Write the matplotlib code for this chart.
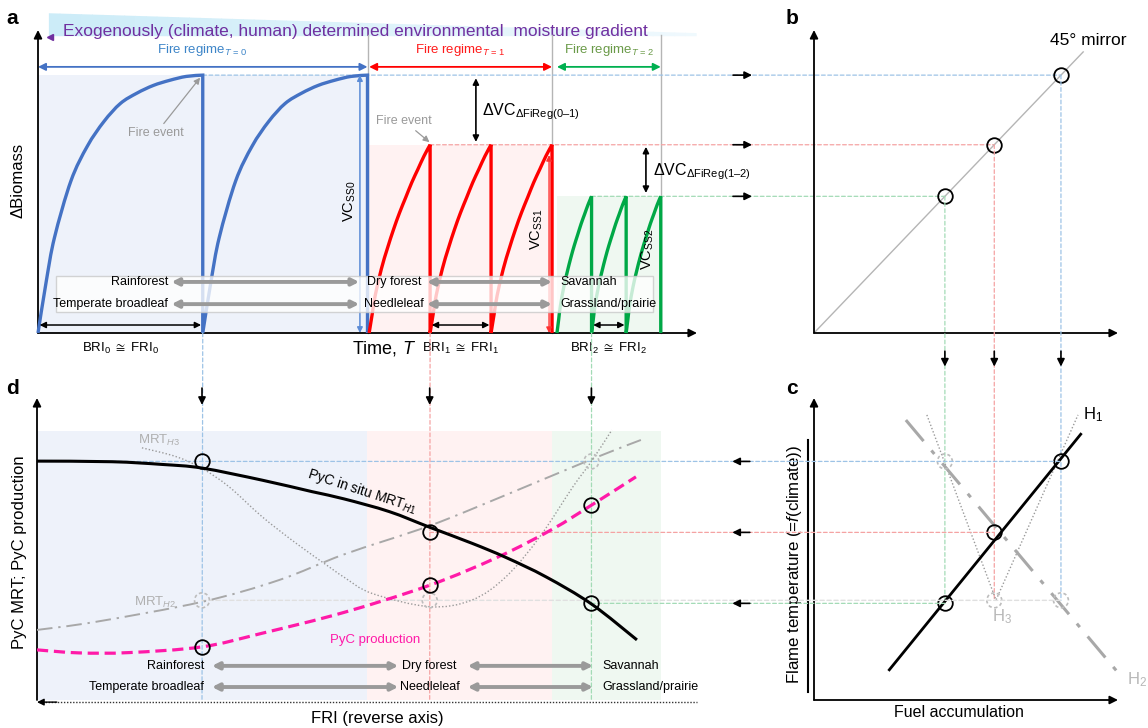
import numpy as np
import matplotlib
matplotlib.use("Agg")
import matplotlib.pyplot as plt
from matplotlib import font_manager
from matplotlib.patches import Rectangle, Polygon, ConnectionPatch, PathPatch
from matplotlib.path import Path

# ---------------------------------------------------------------- data
regime_labels = ["T = 0", "T = 1", "T = 2"]
regime_start = [0.0, 10.05, 15.75]          # time at which each fire regime starts
fire_interval = [5.0, 1.85, 1.05]           # fire return interval of each regime
n_cycles = [2, 3, 3]                        # fire cycles drawn per regime
vc_ss = [1.0, 0.73, 0.53]                   # steady-state vegetation carbon (peak biomass)
growth_phase = [0.0, 0.05, 0.1, 0.2, 0.3, 0.4, 0.5, 0.6, 0.7, 0.8, 0.9, 1.0]
growth_shape_t0 = [0.0, 0.20, 0.37, 0.59, 0.725, 0.82, 0.89, 0.93, 0.96, 0.98, 0.995, 1.0]
growth_shape_t1 = [0.0, 0.10, 0.20, 0.34, 0.45, 0.55, 0.64, 0.72, 0.80, 0.87, 0.94, 1.0]
growth_shape_t2 = [0.0, 0.10, 0.20, 0.34, 0.45, 0.55, 0.64, 0.72, 0.80, 0.87, 0.94, 1.0]
biomes_top = ["Rainforest", "Dry forest", "Savannah"]
biomes_bottom = ["Temperate broadleaf", "Needleleaf", "Grassland/prairie"]

mirror_end = 1.09                            # 45 degree mirror line extent (panel b)

# panel c : flame temperature vs fuel accumulation
fuel_h1 = [0.305, 1.08]
temp_h1 = [0.10, 0.88]
fuel_h2 = [0.372, 1.239]
temp_h2 = [0.927, 0.083]
fuel_h3 = [0.457, 0.737, 1.069]
temp_h3 = [0.944, 0.331, 0.944]
flame_temp = [0.79, 0.555, 0.32]            # H1 flame temperature of each regime
alt_temp = [0.33, 0.33, 0.79]               # H2 / H3 alternatives

# panel d : PyC MRT and PyC production vs FRI (reverse axis)
mrt_h1_t = [0.0, 2.27, 3.79, 5.0, 6.82, 8.33, 9.3, 10.67, 11.9, 13.18, 14.21, 15.42, 16.8, 18.18]
mrt_h1 = [0.791, 0.789, 0.780, 0.768, 0.728, 0.690, 0.666, 0.624, 0.572, 0.519, 0.472, 0.408, 0.318, 0.199]
pyc_t = [0.0, 1.27, 2.79, 5.0, 6.82, 9.3, 11.9, 14.0, 15.61, 16.8, 18.15]
pyc_prod = [0.166, 0.156, 0.157, 0.176, 0.221, 0.290, 0.380, 0.475, 0.565, 0.645, 0.739]
mrt_h2_t = [0.0, 1.79, 5.0, 7.33, 9.3, 11.9, 14.21, 16.8, 18.3]
mrt_h2 = [0.232, 0.259, 0.325, 0.397, 0.482, 0.577, 0.679, 0.797, 0.861]
mrt_h3_t = [3.18, 4.21, 5.0, 5.82, 6.82, 7.85, 8.85, 9.3, 10.15, 11.9, 13.18, 14.21, 15.24, 16.24, 16.8, 17.42]
mrt_h3 = [0.835, 0.806, 0.767, 0.706, 0.607, 0.519, 0.441, 0.407, 0.353, 0.309, 0.331, 0.408, 0.541, 0.706, 0.79, 0.894]

# ---------------------------------------------------------------- style
names = {f.name for f in font_manager.fontManager.ttflist}
FONT = "Liberation Sans" if "Liberation Sans" in names else "DejaVu Sans"
plt.rcParams["font.family"] = [FONT, "DejaVu Sans"]
plt.rcParams["mathtext.fontset"] = "custom"
plt.rcParams["mathtext.rm"] = FONT
plt.rcParams["mathtext.it"] = FONT + ":italic"
plt.rcParams["mathtext.bf"] = FONT + ":bold"
plt.rcParams["mathtext.fallback"] = "stix"

line_col = ["#4472c4", "#ff0000", "#00a846"]
text_col = ["#3d85c8", "#ff1a1a", "#6a9a48"]
arrow_col = ["#4472c4", "#ff0000", "#00b050"]
fill_col = ["#eef2fa", "#fff2f2", "#eff8f1"]
dash_col = ["#9dc3e6", "#f5a3a3", "#a3dbb6"]
GRAY = "#9a9a9a"

W, H = 1148, 728
fig = plt.figure(figsize=(W / 100, H / 100), dpi=100)


def add_axes_px(x0, y_top, x1, y_bot, xlim, ylim):
    ax = fig.add_axes([x0 / W, 1 - y_bot / H, (x1 - x0) / W, (y_bot - y_top) / H])
    ax.set_xlim(*xlim)
    ax.set_ylim(*ylim)
    ax.axis("off")
    return ax


def arrow(ax, p0, p1, color="k", lw=1.1, ms=9, style="-|>", z=4, ls="-"):
    ax.annotate("", xy=p1, xytext=p0, annotation_clip=False, zorder=z,
                arrowprops=dict(arrowstyle=style, color=color, lw=lw, mutation_scale=ms,
                                shrinkA=0, shrinkB=0, linestyle=ls))


def axis_arrows(ax):
    for end in ((0, 1), (1, 0)):
        ax.annotate("", xy=end, xytext=(0, 0), xycoords="axes fraction",
                    arrowprops=dict(arrowstyle="-|>", color="k", lw=1.3, mutation_scale=12,
                                    shrinkA=0, shrinkB=0))


def conn(host, axa, pa, axb, pb, color, lw=0.9, z=1.5):
    con = ConnectionPatch(xyA=pa, coordsA=axa.transData, xyB=pb, coordsB=axb.transData,
                          color=color, lw=lw, linestyle=(0, (3, 2)), zorder=z)
    con.set_annotation_clip(False)
    con.set_clip_on(False)
    host.add_artist(con)


def circles(ax, xs, ys):
    ax.plot(xs, ys, "o", ms=10.5, mfc="none", mec="k", mew=1.3, zorder=7, clip_on=False)


def dashed_circles(ax, xs, ys):
    ax.scatter(xs, ys, s=115, facecolors="none", edgecolors="#bdbdbd", linewidths=1.2,
               linestyle=(0, (2, 1.5)), zorder=6, clip_on=False)


def smooth_segments(xs, ys, first=True):
    """Catmull-Rom curve through the given points, as cubic Bezier path pieces."""
    P = np.column_stack([xs, ys]).astype(float)
    n = len(P)
    verts, codes = ([P[0]], [Path.MOVETO]) if first else ([], [])
    for i in range(n - 1):
        p0 = P[i - 1] if i > 0 else P[i]
        p1, p2 = P[i], P[i + 1]
        p3 = P[i + 2] if i + 2 < n else P[i + 1]
        verts += [p1 + (p2 - p0) / 6.0, p2 - (p3 - p1) / 6.0, p2]
        codes += [Path.CURVE4] * 3
    return verts, codes


def smooth_line(ax, xs, ys, z=3, clip=True, **kw):
    v, c = smooth_segments(xs, ys)
    ax.add_patch(PathPatch(Path(v, c), fill=False, zorder=z, clip_on=clip, capstyle="butt", **kw))


axA = add_axes_px(38, 30, 697, 333, (0, 20), (0, 1.175))
axB = add_axes_px(814, 30, 1118, 333, (0, 1.231), (0, 1.175))
axC = add_axes_px(814, 398, 1118, 700, (0, 1.231), (0, 1.0))
axD = add_axes_px(37, 398, 697, 700, (0, 20), (0, 1.0))

shapes = [growth_shape_t0, growth_shape_t1, growth_shape_t2]
regime_end = [s + n * iv for s, n, iv in zip(regime_start, n_cycles, fire_interval)]
first_fire = [s + iv for s, iv in zip(regime_start, fire_interval)]

# ---------------------------------------------------------------- panel a
axis_arrows(axA)
# header gradient wedge
xa, xb = 0.33, 19.97
yt_l, yt_r, yb = 1.24, 1.163, 1.151
c0 = np.array([0.80, 0.925, 0.972])
c1 = np.array([0.94, 0.976, 0.992])
N = 60
for k in range(N):
    f0, f1 = k / N, (k + 1) / N
    x0, x1 = xa + (xb - xa) * f0, xa + (xb - xa) * f1
    y0, y1 = yt_l + (yt_r - yt_l) * f0, yt_l + (yt_r - yt_l) * f1
    axA.add_patch(Polygon([(x0, yb), (x0, y0), (x1 + 0.02, y1), (x1 + 0.02, yb)], closed=True,
                          fc=c0 + (c1 - c0) * f0, ec="none", clip_on=False, zorder=0.2))
axA.text(0.76, 1.170, "Exogenously (climate, human) determined environmental  moisture gradient",
         color="#7030a0", fontsize=12.5, ha="left", va="center", clip_on=False, zorder=1)
axA.plot([0.36], [1.147], marker="<", ms=5, color="#7030a0", clip_on=False)

for i in range(3):
    s, iv, n, vc = regime_start[i], fire_interval[i], n_cycles[i], vc_ss[i]
    e = regime_end[i]
    axA.add_patch(Rectangle((s, 0), e - s, vc, fc=fill_col[i], ec="none", zorder=0.5))
    verts, codes = [], []
    for k in range(n):
        t0 = s + k * iv
        v, c = smooth_segments(t0 + np.array(growth_phase) * iv, vc * np.array(shapes[i]),
                               first=(k == 0))
        verts += v + [(t0 + iv, 0.0)]
        codes += c + [Path.LINETO]
    axA.add_patch(PathPatch(Path(verts, codes), fill=False, ec=line_col[i], lw=2.4, zorder=3,
                            joinstyle="miter", clip_on=False))
    # regime arrow and label
    arrow(axA, (s, 1.032), (e, 1.032), color=arrow_col[i], lw=1.3, ms=11, style="<|-|>")
    sub = regime_labels[i].replace(" ", r"\,")
    axA.text((s + e) / 2, 1.097, "Fire regime$_{%s}$" % sub, color=text_col[i], fontsize=9.5,
             ha="center", va="center", clip_on=False)
    axA.plot([e, e], [0, 1.155], color="#b5b5b5", lw=1.0, zorder=1, clip_on=False)

# steady-state arrows / labels
arrow(axA, (9.77, 0.0), (9.77, vc_ss[0]), color="#5b8bd6", lw=1.1, ms=8, style="<|-|>")
arrow(axA, (15.51, 0.0), (15.51, vc_ss[1] - 0.04), color="#ff3030", lw=1.0, ms=8, style="<|-|>")
axA.text(9.45, 0.51, r"VC$_{\mathrm{SS0}}$", rotation=90, fontsize=10.5, ha="center", va="center")
axA.text(15.13, 0.40, r"VC$_{\mathrm{SS1}}$", rotation=90, fontsize=10.5, ha="center", va="center")
axA.text(18.5, 0.326, r"VC$_{\mathrm{SS2}}$", rotation=90, fontsize=10.5, ha="center", va="center")

arrow(axA, (13.29, vc_ss[0] - 0.012), (13.29, vc_ss[1] + 0.011), lw=1.2, ms=9, style="<|-|>")
axA.text(13.47, 0.858, r"ΔVC$_{\mathrm{ΔFiReg(0–1)}}$", fontsize=11.5, ha="left", va="center",
         clip_on=False)
arrow(axA, (18.45, vc_ss[1] - 0.008), (18.45, vc_ss[2] + 0.013), lw=1.2, ms=9, style="<|-|>")
axA.text(18.65, 0.625, r"ΔVC$_{\mathrm{ΔFiReg(1–2)}}$", fontsize=11.5, ha="left", va="center",
         clip_on=False)

# fire events
axA.annotate("Fire event", xy=(first_fire[0] - 0.08, vc_ss[0] - 0.01), xytext=(3.58, 0.774),
             color=GRAY, fontsize=9, ha="center", va="center",
             arrowprops=dict(arrowstyle="-|>", color=GRAY, lw=0.9, mutation_scale=9, shrinkA=1, shrinkB=0))
axA.annotate("Fire event", xy=(first_fire[1] - 0.02, vc_ss[1] + 0.01), xytext=(11.11, 0.822),
             color=GRAY, fontsize=9, ha="center", va="center",
             arrowprops=dict(arrowstyle="-|>", color=GRAY, lw=0.9, mutation_scale=9, shrinkA=1, shrinkB=0))

# biome box
axA.add_patch(Rectangle((0.55, 0.081), 18.1, 0.14, fc="white", ec="#c8c8c8", lw=1.0, alpha=0.78,
                        zorder=4))
for row_y, labels in ((0.198, biomes_top), (0.112, biomes_bottom)):
    axA.text(3.95, row_y, labels[0], ha="right", va="center", fontsize=9, zorder=5)
    axA.text(10.8, row_y, labels[1], ha="center", va="center", fontsize=9, zorder=5)
    axA.text(15.85, row_y, labels[2], ha="left", va="center", fontsize=9, zorder=5)
    arrow(axA, (4.05, row_y), (9.75, row_y), color=GRAY, lw=2.8, ms=10, style="<|-|>", z=5)
    arrow(axA, (11.8, row_y), (15.6, row_y), color=GRAY, lw=2.8, ms=10, style="<|-|>", z=5)

# BRI arrows
bri_pairs = [(regime_start[0], first_fire[0]),
             (first_fire[1], first_fire[1] + fire_interval[1]),
             (first_fire[2], first_fire[2] + fire_interval[2])]
for i, (p, q) in enumerate(bri_pairs):
    arrow(axA, (p + 0.05, 0.031), (q - 0.05, 0.031), lw=1.1, ms=9, style="<|-|>", z=5)
    axA.text((p + q) / 2, -0.058, r"BRI$_{%d}$ $\cong$ FRI$_{%d}$" % (i, i), fontsize=9.5,
             ha="center", va="center", clip_on=False)
axA.text(10.5, -0.062, "Time, $T$", fontsize=13, ha="center", va="center", clip_on=False)
axA.text(-0.61, 0.593, "ΔBiomass", rotation=90, fontsize=12, ha="center", va="center", clip_on=False)

# ---------------------------------------------------------------- panel b
axis_arrows(axB)
axB.plot([0, mirror_end], [0, mirror_end], color="#b5b5b5", lw=1.0, zorder=2)
circles(axB, vc_ss, vc_ss)
axB.text(1.109, 1.136, "45° mirror", fontsize=12.5, ha="center", va="center", clip_on=False)
for i in range(3):
    conn(axA, axA, (first_fire[i], vc_ss[i]), axB, (vc_ss[i], vc_ss[i]), dash_col[i])
    arrow(axB, (-0.328, vc_ss[i]), (-0.251, vc_ss[i]), lw=1.2, ms=11)

# ---------------------------------------------------------------- panel c
axis_arrows(axC)
axC.plot(fuel_h3, temp_h3, color="#9a9a9a", lw=1.0, ls=(0, (1, 1.5)), zorder=3, clip_on=False)
axC.plot(fuel_h2, temp_h2, color="#a8a8a8", lw=2.2, ls=(0, (9, 4, 1.5, 4)), zorder=3, clip_on=False)
axC.plot(fuel_h1, temp_h1, color="k", lw=2.0, zorder=4)
circles(axC, vc_ss, flame_temp)
dashed_circles(axC, vc_ss, alt_temp)
axC.text(1.13, 0.944, "H$_1$", fontsize=12, ha="center", va="center", clip_on=False)
axC.text(1.267, 0.066, "H$_2$", fontsize=12, color="#b8b8b8", ha="left", va="center", clip_on=False)
axC.text(0.72, 0.275, "H$_3$", fontsize=12, color="#b8b8b8", ha="left", va="center", clip_on=False)
axC.text(-0.077, 0.447, "Flame temperature (=$f$(climate))", rotation=90, fontsize=12.2,
         ha="center", va="center", clip_on=False)
axC.plot([-0.024, -0.024], [0.026, 0.86], color="k", lw=1.5, clip_on=False)
axC.text(0.587, -0.043, "Fuel accumulation", fontsize=11.5, ha="center", va="center", clip_on=False)
for i in range(3):
    conn(axC, axB, (vc_ss[i], vc_ss[i]), axC, (vc_ss[i], min(alt_temp)), dash_col[i])
    arrow(axC, (vc_ss[i], 1.155), (vc_ss[i], 1.104), lw=1.2, ms=11, z=8)

# ---------------------------------------------------------------- panel d
axD.annotate("", xy=(0, 1), xytext=(0, 0), xycoords="axes fraction",
             arrowprops=dict(arrowstyle="-|>", color="k", lw=1.3, mutation_scale=12, shrinkA=0, shrinkB=0))
axD.plot([0.05, 20], [-0.007, -0.007], color="#333333", lw=1.0, ls=(0, (1, 1.2)), clip_on=False)
arrow(axD, (0.6, -0.007), (0.0, -0.007), lw=1.0, ms=10)
prev = [0.0] + regime_end[:-1]
for i in range(3):
    axD.add_patch(Rectangle((prev[i], 0), regime_end[i] - prev[i], 0.89, fc=fill_col[i], ec="none",
                            zorder=0.5))
smooth_line(axD, mrt_h3_t, mrt_h3, z=3, ec="#9a9a9a", lw=1.0, ls=(0, (1, 1.5)))
smooth_line(axD, mrt_h2_t, mrt_h2, z=3, ec="#a8a8a8", lw=1.4, ls=(0, (8, 3, 1.2, 3)))
smooth_line(axD, pyc_t, pyc_prod, z=4, ec="#ff1aa8", lw=2.3, ls=(0, (3.5, 1.8)))
smooth_line(axD, mrt_h1_t, mrt_h1, z=5, ec="k", lw=2.2)

pyc_at_fire = [pyc_prod[pyc_t.index(t)] for t in first_fire]
circles(axD, first_fire, flame_temp)
circles(axD, first_fire, pyc_at_fire)
dashed_circles(axD, first_fire, alt_temp)

axD.text(8.2, 0.75, "PyC in situ MRT$_{H1}$", rotation=-18, rotation_mode="anchor", fontsize=10,
         ha="left", va="center", zorder=6)
axD.text(10.24, 0.199, "PyC production", color="#ff1aa8", fontsize=9.5, ha="center", va="center")
axD.text(3.06, 0.858, "MRT$_{H3}$", color="#b0b0b0", fontsize=9.5, ha="left", va="center")
axD.text(2.95, 0.322, "MRT$_{H2}$", color="#b0b0b0", fontsize=9.5, ha="left", va="center")

for row_y, labels in ((0.113, biomes_top), (0.043, biomes_bottom)):
    axD.text(first_fire[0] + 0.07, row_y, labels[0], ha="right", va="center", fontsize=9, zorder=5)
    axD.text(first_fire[1], row_y, labels[1], ha="center", va="center", fontsize=9, zorder=5)
    axD.text(first_fire[2] + 0.32, row_y, labels[2], ha="left", va="center", fontsize=9, zorder=5)
    arrow(axD, (5.3, row_y), (10.95, row_y), color=GRAY, lw=2.8, ms=10, style="<|-|>", z=5)
    arrow(axD, (13.05, row_y), (16.85, row_y), color=GRAY, lw=2.8, ms=10, style="<|-|>", z=5)

axD.text(10.3, -0.06, "FRI (reverse axis)", fontsize=12, ha="center", va="center", clip_on=False)
axD.text(-0.52, 0.49, "PyC MRT; PyC production", rotation=90, fontsize=12, ha="center", va="center",
         clip_on=False)

# cross-panel guides
conn(axD, axD, (first_fire[0], alt_temp[0]), axC, (vc_ss[0], alt_temp[0]), "#e0e0e0", lw=1.0, z=1.3)
for i in range(3):
    conn(axD, axA, (first_fire[i], 0.0), axD, (first_fire[i], 0.0), dash_col[i])
    start_x = 0.0 if i == 0 else first_fire[i]
    conn(axD, axD, (start_x, flame_temp[i]), axC, (vc_ss[i], flame_temp[i]), dash_col[i])
    arrow(axD, (first_fire[i], 1.033), (first_fire[i], 0.977), lw=1.2, ms=11)
    arrow(axD, (21.6, flame_temp[i]), (21.07, flame_temp[i]), lw=1.2, ms=11, z=8)

# panel letters
for lab, (px, py) in {"a": (12, 18), "b": (792, 18), "c": (792, 388), "d": (12, 388)}.items():
    fig.text(px / W, 1 - py / H, lab, fontsize=15, fontweight="bold", ha="center", va="center")

fig.savefig("out.png", dpi=100)
